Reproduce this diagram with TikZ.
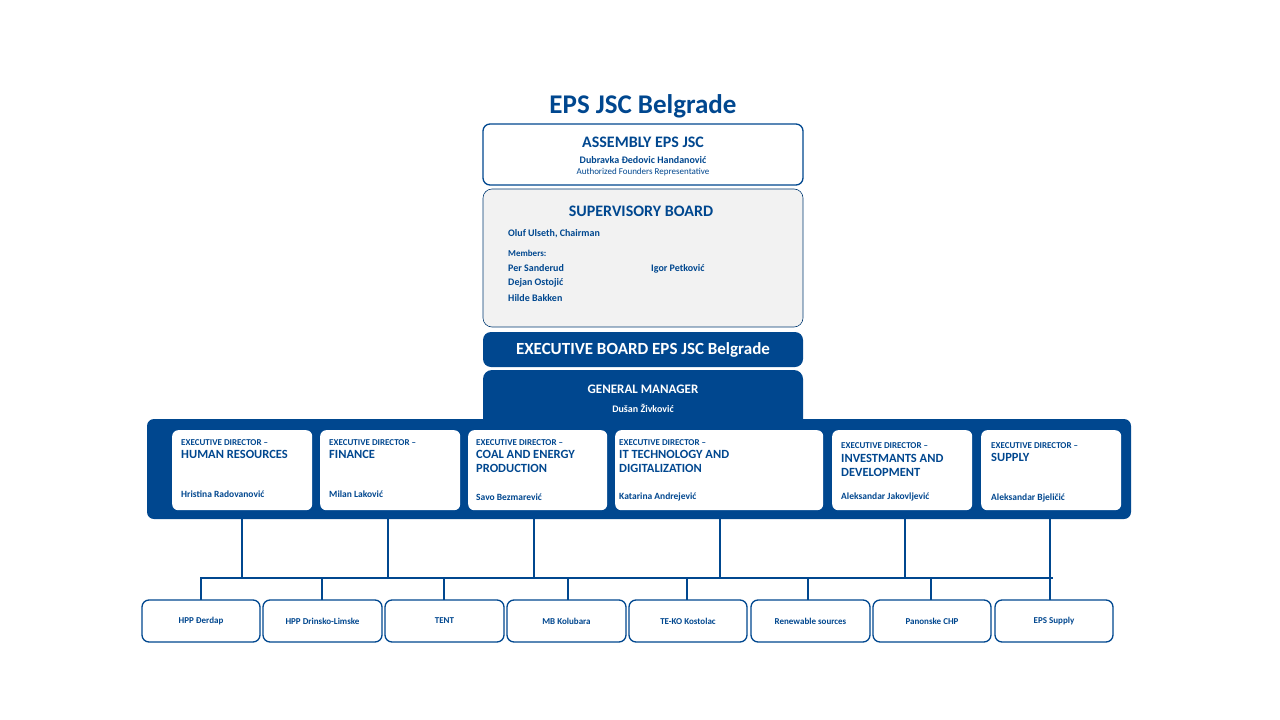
\documentclass[tikz,border=0pt]{standalone}
\usepackage{fontspec}
\setmainfont{Carlito}
\definecolor{epsblue}{HTML}{00478F}
\definecolor{sgray}{HTML}{F2F2F2}
\begin{document}
\begin{tikzpicture}[x=1pt,y=-1pt,
  wbox/.style={draw=epsblue,line width=1.3pt,fill=white,rounded corners=7pt},
  dbox/.style={draw=none,fill=white,rounded corners=6pt,inner sep=0},
  bbox/.style={draw=epsblue,line width=1.3pt,fill=white,rounded corners=7pt,minimum height=42pt,text=epsblue,font=\bfseries\fontsize{9}{10}\selectfont,inner sep=0},
  conn/.style={draw=epsblue,line width=2.6pt},
  t/.style={text=epsblue,inner sep=0,anchor=west}]
\useasboundingbox (0,0) rectangle (1280,720);
\node[text=epsblue,font=\bfseries\fontsize{27}{28}\selectfont] (title) at (643,106) {EPS JSC Belgrade};
% assembly
\draw[wbox] (483,124) rectangle (803,185);
\node[text=epsblue,font=\bfseries\fontsize{16}{17}\selectfont] (asm) at (643,142) {ASSEMBLY EPS JSC};
\node[text=epsblue,font=\bfseries\fontsize{10}{11}\selectfont] (asmn) at (643,160) {Dubravka Đedovic Handanović};
\node[text=epsblue,font=\fontsize{9}{10}\selectfont] (asmr) at (643,172) {Authorized Founders Representative};
% supervisory
\draw[draw=epsblue!80!black,line width=0.6pt,fill=sgray,rounded corners=9pt] (483,189) rectangle (803,327);
\node[text=epsblue,font=\bfseries\fontsize{16}{17}\selectfont] (sb) at (641,211) {SUPERVISORY BOARD};
\node[t,font=\bfseries\fontsize{10}{11}\selectfont] (s1) at (508,234) {Oluf Ulseth, Chairman};
\node[t,font=\bfseries\fontsize{9}{10}\selectfont] (s2) at (508,253) {Members:};
\node[t,font=\bfseries\fontsize{10}{11}\selectfont] (s3) at (508,268) {Per Sanderud};
\node[t,font=\bfseries\fontsize{10}{11}\selectfont] (s4) at (508,283) {Dejan Ostojić};
\node[t,font=\bfseries\fontsize{10}{11}\selectfont] (s5) at (508,298) {Hilde Bakken};
\node[t,font=\bfseries\fontsize{10}{11}\selectfont] (s6) at (651,269) {Igor Petković};
% executive board
\fill[epsblue,rounded corners=8pt] (483,332) rectangle (803,367);
\node[text=white,font=\bfseries\fontsize{17}{18}\selectfont] (eb) at (643,350) {EXECUTIVE BOARD EPS JSC Belgrade};
% GM + big band
\fill[epsblue,rounded corners=9pt] (483,370) rectangle (803,430);
\fill[epsblue,rounded corners=7pt] (147,419) rectangle (1131,519);
\node[text=white,font=\bfseries\fontsize{13}{14}\selectfont] (gm) at (643,389) {GENERAL MANAGER};
\node[text=white,font=\bfseries\fontsize{10}{11}\selectfont] (gmn) at (643,408) {Dušan Živković};
% director boxes
\def\dir#1#2#3#4#5#6{%
 \node[dbox,minimum width=#3-#2,minimum height=80pt,anchor=north west] (#1) at (#2,430) {};
 \node[t,font=\bfseries\fontsize{9}{10}\selectfont] at (#2+9,#6) {EXECUTIVE DIRECTOR –};
 \node[t,font=\bfseries\fontsize{12.5}{13.5}\selectfont,align=left,anchor=north west] at (#2+9,#6+7) {#4};
 \node[t,font=\bfseries\fontsize{9}{10}\selectfont] at (#2+9,#5) {#5name};}
\node[dbox,minimum width=140pt,minimum height=80pt,anchor=north west] (hr) at (172,430) {};
\node[dbox,minimum width=140pt,minimum height=80pt,anchor=north west] (fin) at (320,430) {};
\node[dbox,minimum width=139pt,minimum height=80pt,anchor=north west] (coal) at (468,430) {};
\node[dbox,minimum width=208pt,minimum height=80pt,anchor=north west] (it) at (615,430) {};
\node[dbox,minimum width=140pt,minimum height=80pt,anchor=north west] (inv) at (832,430) {};
\node[dbox,minimum width=140pt,minimum height=80pt,anchor=north west] (sup) at (981,430) {};
\tikzset{h/.style={t,font=\bfseries\fontsize{9}{10}\selectfont},
 ti/.style={t,font=\bfseries\fontsize{12.5}{14.5}\selectfont,align=left,anchor=north west},
 nm/.style={t,font=\bfseries\fontsize{9.5}{10}\selectfont}}
\node[h] (h1) at (181,443) {EXECUTIVE DIRECTOR –};
\node[ti] (t1) at (181,450) {HUMAN RESOURCES};
\node[nm] (n1) at (181,494) {Hristina Radovanović};
\node[h] (h2) at (329,443) {EXECUTIVE DIRECTOR –};
\node[ti] (t2) at (329,450) {FINANCE};
\node[nm] (n2) at (329,494) {Milan Laković};
\node[h] (h3) at (476,443) {EXECUTIVE DIRECTOR –};
\node[ti] (t3) at (476,450) {COAL AND ENERGY\\PRODUCTION};
\node[nm] (n3) at (476,497) {Savo Bezmarević};
\node[h] (h4) at (619,443) {EXECUTIVE DIRECTOR –};
\node[ti] (t4) at (619,450) {IT TECHNOLOGY AND\\DIGITALIZATION};
\node[nm] (n4) at (619,497) {Katarina Andrejević};
\node[h] (h5) at (841,446) {EXECUTIVE DIRECTOR –};
\node[ti] (t5) at (841,454) {INVESTMANTS AND\\DEVELOPMENT};
\node[nm] (n5) at (841,497) {Aleksandar Jakovljević};
\node[h] (h6) at (991,446) {EXECUTIVE DIRECTOR –};
\node[ti] (t6) at (991,453) {SUPPLY};
\node[nm] (n6) at (991,498) {Aleksandar Bjeličić};
% bottom boxes
\node[bbox,minimum width=118pt] (b1) at (201,621) {HPP Đerdap};
\node[bbox,minimum width=119pt] (b2) at (322.5,621) {HPP Drinsko-Limske};
\node[bbox,minimum width=119pt] (b3) at (444.5,621) {TENT};
\node[bbox,minimum width=119pt] (b4) at (566.5,621) {MB Kolubara};
\node[bbox,minimum width=118pt] (b5) at (688,621) {TE-KO Kostolac};
\node[bbox,minimum width=119pt] (b6) at (810.5,621) {Renewable sources};
\node[bbox,minimum width=118pt] (b7) at (932,621) {Panonske CHP};
\node[bbox,minimum width=118pt] (b8) at (1054,621) {EPS Supply};
% connectors
\coordinate (busL) at (200,578);
\coordinate (busR) at (1053,578);
\draw[conn] (busL) -- (busR);
\foreach \x in {242,388,534,720,905,1050} \draw[conn] (\x,519) -- (\x,578);
\foreach \n/\x in {b1/201,b2/322,b3/444,b4/568,b5/687,b6/808,b7/931,b8/1050} \draw[conn] (\x,578) -- (\x,600);
\end{tikzpicture}
\end{document}
